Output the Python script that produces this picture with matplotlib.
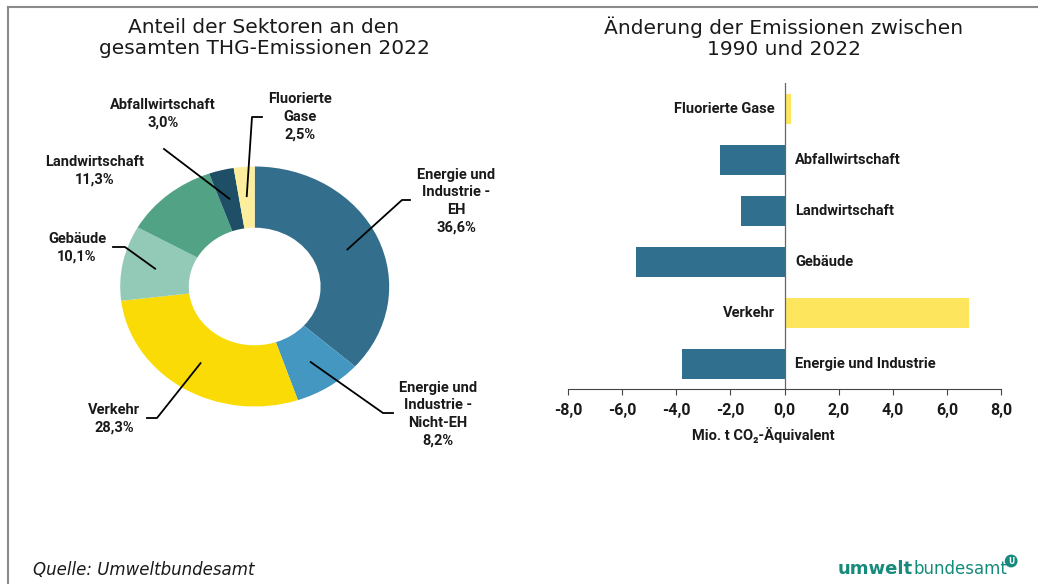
import numpy as np
import matplotlib
matplotlib.use("Agg")
import matplotlib.pyplot as plt
from matplotlib.lines import Line2D

# ----- Data -----
pie_labels = ['Energie und\nIndustrie -\nEH', 'Energie und\nIndustrie -\nNicht-EH', 'Verkehr',
              'Gebäude', 'Landwirtschaft', 'Abfallwirtschaft', 'Fluorierte\nGase']
pie_values = [36.6, 8.2, 28.3, 10.1, 11.3, 3.0, 2.5]
pie_colors = ['#336f8c', '#4397c1', '#fbdb05', '#93cab7', '#52a386', '#1f4f66', '#fcee9c']

bar_labels = ['Energie und Industrie', 'Verkehr', 'Gebäude', 'Landwirtschaft',
              'Abfallwirtschaft', 'Fluorierte Gase']
bar_values = [-3.8, 6.8, -5.5, -1.6, -2.4, 0.25]
bar_colors = ['#30708e', '#fde55d', '#30708e', '#30708e', '#30708e', '#fde55d']
x_ticks = [-8, -6, -4, -2, 0, 2, 4, 6, 8]

W, H = 1038, 584
cond = ['Roboto', 'DejaVu Sans']

fig = plt.figure(figsize=(W / 100, H / 100), dpi=100)

def fpx(x, y):
    # image pixel -> figure fraction
    return x / W, 1 - y / H

# frame lines (top and left)
fig.add_artist(Line2D([8 / W, 1], [1 - 7 / H, 1 - 7 / H], transform=fig.transFigure, color='#8a8a8a', lw=1.5))
fig.add_artist(Line2D([8 / W, 8 / W], [0, 1 - 7 / H], transform=fig.transFigure, color='#8a8a8a', lw=1.5))

# ----- Donut -----
cx, cy, rx, ry = 254.7, 286.5, 134.5, 120.0
ax1 = fig.add_axes([(cx - 1.25 * rx) / W, 1 - (cy + 1.25 * ry) / H, 2.5 * rx / W, 2.5 * ry / H])
wedges, _ = ax1.pie(pie_values, colors=pie_colors, startangle=90, counterclock=False,
                    wedgeprops=dict(width=0.51, linewidth=0))
ax1.set_aspect('auto')
ax1.set_xlim(-1.25, 1.25)
ax1.set_ylim(-1.25, 1.25)

def to_pie(x, y):
    return (x - cx) / rx, (cy - y) / ry

# label layout: (text center px, leader points in px after the wedge start)
pie_layout = [
    ((456, 201), [(402, 200), (410, 200)]),
    ((438, 414), [(383, 413), (393, 413)]),
    ((114, 419), [(157, 418), (147, 418)]),
    ((77, 248), [(125, 247), (113, 247)]),
    ((95, 171), None),
    ((163, 114), [(164, 149)]),
    ((300, 117), [(252, 117), (262, 117)]),
]

for w, lab, val, (tpos, pts) in zip(wedges, pie_labels, pie_values, pie_layout):
    txt = lab + '\n' + f'{val:.1f}'.replace('.', ',') + '%'
    fig.text(*fpx(*tpos), txt, ha='center', va='center', fontsize=10.5, fontweight='bold',
             family=cond, linespacing=1.33, color='#1a1a1a')
    if pts is None:
        continue
    ang = np.deg2rad((w.theta1 + w.theta2) / 2)
    xs = [0.755 * np.cos(ang)]
    ys = [0.755 * np.sin(ang)]
    for p in pts:
        px, py = to_pie(*p)
        xs.append(px)
        ys.append(py)
    ax1.plot(xs, ys, color='black', lw=1.3, clip_on=False)

fig.text(*fpx(264, 38), 'Anteil der Sektoren an den\ngesamten THG-Emissionen 2022', ha='center', va='center',
         fontsize=14.5, color='#1a1a1a', linespacing=1.15)

# ----- Bar chart -----
ax2 = fig.add_axes([568 / W, 1 - 389 / H, 433 / W, 306 / H])
y = np.arange(len(bar_labels))
ax2.barh(y, bar_values, height=0.57, color=bar_colors)
ax2.set_xlim(-8, 8)
ax2.set_ylim(-0.49, 5.51)
ax2.axvline(0, color='#666666', lw=0.9)
for yi, lab, v in zip(y, bar_labels, bar_values):
    if v < 0:
        ax2.text(0.4, yi, lab, ha='left', va='center', fontsize=10.5, fontweight='bold', family=cond, color='#1a1a1a')
    else:
        ax2.text(-0.35, yi, lab, ha='right', va='center', fontsize=10.5, fontweight='bold', family=cond, color='#1a1a1a')
for s in ['top', 'right', 'left']:
    ax2.spines[s].set_visible(False)
ax2.spines['bottom'].set_color('#444444')
ax2.set_yticks([])
ax2.set_xticks(x_ticks)
ax2.set_xticklabels([f'{t:.1f}'.replace('.', ',') for t in x_ticks], fontsize=11.5, fontweight='bold', family=cond)
ax2.tick_params(axis='x', direction='out', length=4, color='#444444', pad=6, labelcolor='#1a1a1a')
fig.text(*fpx(763, 435), 'Mio. t CO₂-Äquivalent', ha='center', va='center', fontsize=10.5, fontweight='bold',
         family=cond, color='#1a1a1a')

fig.text(*fpx(784, 38), 'Änderung der Emissionen zwischen\n1990 und 2022', ha='center', va='center',
         fontsize=14.5, color='#1a1a1a', linespacing=1.15)

# ----- Footer -----
fig.text(*fpx(33, 570), 'Quelle: Umweltbundesamt', ha='left', va='center', fontsize=12, style='italic', color='#1a1a1a')
t1 = fig.text(*fpx(838, 569), 'umwelt', ha='left', va='center', fontsize=13, fontweight='bold', color='#168a7b')
fig.canvas.draw()
bb = t1.get_window_extent()
t2 = fig.text(bb.x1 / W, 1 - 569 / H, 'bundesamt', ha='left', va='center', fontsize=12, color='#168a7b')
bb2 = t2.get_window_extent()
fig.text(bb2.x1 / W + 0.001, 1 - 561 / H, 'U', ha='left', va='center', fontsize=5.5, fontweight='bold', color='white',
         bbox=dict(boxstyle='circle,pad=0.25', fc='#168a7b', ec='none'))

fig.savefig('out.png', dpi=100)
